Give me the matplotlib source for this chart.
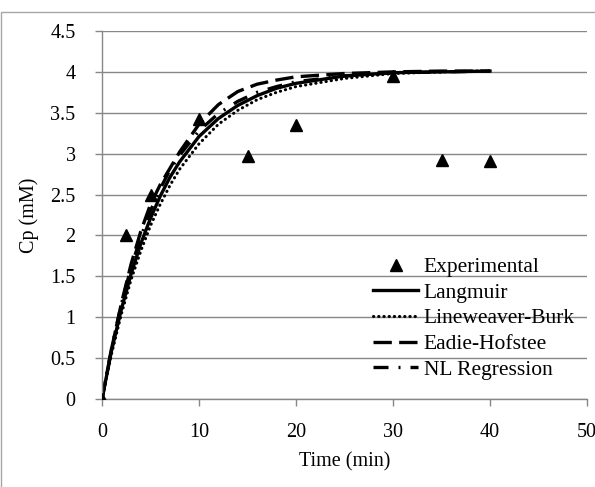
import matplotlib
matplotlib.use("Agg")
import matplotlib.pyplot as plt
from matplotlib.patches import Rectangle

# experimental points
t_exp = [0, 2.5, 5, 10, 15, 20, 30, 35, 40]
cp_exp = [0, 2.0, 2.5, 3.43, 2.97, 3.35, 3.95, 2.92, 2.91]

# model curves
t_mod = [0, 1, 2, 3, 4, 5, 6, 7, 8, 10, 12, 14, 16, 18, 20, 25, 30, 35, 40]
cp_langmuir = [0, 0.60, 1.10, 1.53, 1.90, 2.21, 2.48, 2.71, 2.90, 3.21, 3.43,
               3.59, 3.71, 3.80, 3.86, 3.95, 3.99, 4.00, 4.01]
cp_lineweaver = [0, 0.56, 1.04, 1.46, 1.81, 2.12, 2.38, 2.61, 2.81, 3.12, 3.36,
                 3.53, 3.66, 3.75, 3.82, 3.92, 3.98, 4.00, 4.01]
cp_eadie = [0, 0.62, 1.17, 1.65, 2.05, 2.38, 2.62, 2.82, 3.02, 3.36, 3.60,
            3.76, 3.85, 3.90, 3.94, 3.98, 4.00, 4.01, 4.01]
cp_nl = [0, 0.63, 1.16, 1.61, 1.98, 2.30, 2.57, 2.80, 2.98, 3.28, 3.49,
         3.64, 3.75, 3.82, 3.88, 3.95, 3.99, 4.00, 4.01]

yticks = [0, 0.5, 1, 1.5, 2, 2.5, 3, 3.5, 4, 4.5]
ytick_labels = ["0", "0.5", "1", "1.5", "2", "2.5", "3", "3.5", "4", "4.5"]
xticks = [0, 10, 20, 30, 40, 50]

plt.rcParams["font.family"] = ["Liberation Serif", "DejaVu Serif"]
plt.rcParams["font.size"] = 14.5

grey = "#878787"

fig = plt.figure(figsize=(5.95, 4.87), dpi=100)
ax = fig.add_axes([102/595, 1 - 399/487, (587 - 102)/595, (399 - 31)/487])

ax.plot(t_exp, cp_exp, linestyle="none", marker="^", color="black",
        markersize=8, label="Experimental", zorder=3)
ax.plot(t_mod, cp_langmuir, color="black", lw=2.4, label="Langmuir")
ax.plot(t_mod, cp_lineweaver, color="black", lw=2.2, linestyle=(0, (0.1, 1.6)),
        dash_capstyle="round", label="Lineweaver-Burk")
ax.plot(t_mod, cp_eadie, color="black", lw=2.4, linestyle=(0, (5.5, 2.2)),
        label="Eadie-Hofstee")
ax.plot(t_mod, cp_nl, color="black", lw=2.4, linestyle=(0, (4.5, 3, 0.6, 3)),
        label="NL Regression")

ax.set_xlim(0, 50)
ax.set_ylim(0, 4.5)
ax.set_xticks(xticks)
ax.set_yticks(yticks)
ax.set_yticklabels(ytick_labels)
ax.grid(axis="y", color=grey, lw=1.0)
ax.set_axisbelow(True)
for s in ["top", "right"]:
    ax.spines[s].set_visible(False)
for s in ["left", "bottom"]:
    ax.spines[s].set_color(grey)
    ax.spines[s].set_linewidth(1.0)
ax.tick_params(axis="both", colors=grey, labelcolor="black", length=5, width=1.0)
ax.tick_params(axis="y", pad=14)
ax.tick_params(axis="x", pad=12)

ax.set_xlabel("Time (min)", labelpad=8)
ax.set_ylabel("Cp (mM)", labelpad=8)

ax.legend(loc="upper left", bbox_to_anchor=(373/595, 1 - 257/487),
          bbox_transform=fig.transFigure, frameon=False, borderpad=0,
          borderaxespad=0, handlelength=2.1, handletextpad=0.25,
          labelspacing=0.26, fontsize=15.5)

# outer chart border
fig.patches.append(Rectangle((1/595, -0.01), 1.0, 1 - 12/487 + 0.01,
                             transform=fig.transFigure, fill=False,
                             edgecolor="#a6a6a6", lw=1.0))

plt.savefig("out.png", dpi=100)
